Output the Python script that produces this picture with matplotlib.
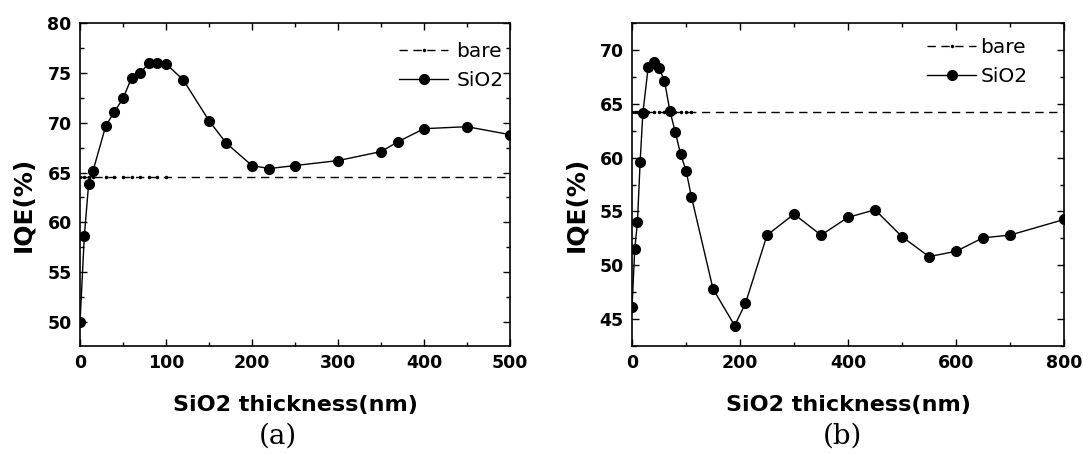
import matplotlib
matplotlib.use("Agg")
import matplotlib.pyplot as plt
from matplotlib.ticker import MultipleLocator

# panel (a): 0-500 nm
xa = [0, 5, 10, 15, 30, 40, 50, 60, 70, 80, 90, 100, 120, 150, 170, 200, 220, 250,
      300, 350, 370, 400, 450, 500]
iqe_a = [50.0, 58.65, 63.85, 65.15, 69.7, 71.1, 72.45, 74.5, 74.95, 76.0, 76.0, 75.9,
         74.3, 70.2, 67.95, 65.7, 65.4, 65.7, 66.2, 67.1, 68.1, 69.4, 69.6, 68.8]
bare_a = 64.6

# panel (b): 0-800 nm
xb = [0, 5, 10, 15, 20, 30, 40, 50, 60, 70, 80, 90, 100, 110, 150, 190, 210, 250,
      300, 350, 400, 450, 500, 550, 600, 650, 700, 800]
iqe_b = [46.1, 51.5, 54.0, 59.6, 64.1, 68.45, 68.85, 68.3, 67.15, 64.35, 62.4, 60.3,
         58.8, 56.35, 47.8, 44.4, 46.45, 52.8, 54.75, 52.8, 54.45, 55.15, 52.65, 50.8,
         51.3, 52.55, 52.8, 54.25]
bare_b = 64.2

fig = plt.figure(figsize=(10.83, 4.54), dpi=100)
axa = fig.add_axes([0.0739, 0.2379, 0.397, 0.7114])
axb = fig.add_axes([0.5836, 0.2379, 0.3989, 0.7114])


def draw(ax, x, y, bare, xlim, ylim, xmaj, xmin, label, lx, legpos, textpad, ylx):
    near = [i for i, v in enumerate(x) if v <= 110]
    ax.plot(x, [bare] * len(x), color='black', lw=1.0, linestyle='--', dashes=(6, 4),
            marker='.', markersize=3, markevery=near, label='bare')
    ax.plot(x, y, color='black', lw=1.0, marker='o', markersize=7, label='SiO2')
    ax.set_xlim(*xlim)
    ax.set_ylim(*ylim)
    ax.xaxis.set_major_locator(MultipleLocator(xmaj))
    ax.xaxis.set_minor_locator(MultipleLocator(xmin))
    ax.yaxis.set_major_locator(MultipleLocator(5))
    ax.yaxis.set_minor_locator(MultipleLocator(2.5))
    ax.tick_params(which='both', direction='in', top=True, right=True, width=1.0)
    ax.tick_params(which='major', length=5, pad=6, labelsize=12.5)
    ax.tick_params(which='minor', length=3)
    for t in ax.get_xticklabels() + ax.get_yticklabels():
        t.set_fontweight('bold')
    for s in ax.spines.values():
        s.set_linewidth(1.2)
    ax.set_xlabel('SiO2 thickness(nm)', fontsize=16, fontweight='bold', labelpad=16)
    ax.set_ylabel('IQE(%)', fontsize=18, fontweight='bold')
    ax.yaxis.set_label_coords(ylx, 0.44)
    ax.legend(loc='upper left', bbox_to_anchor=legpos, frameon=False, fontsize=14.5,
              handlelength=2.45, handletextpad=textpad, labelspacing=0.5,
              borderpad=0, borderaxespad=0)
    fig.text(lx, 0.04, label, ha='center', va='center', fontsize=20,
             family='DejaVu Serif')


draw(axa, xa, iqe_a, bare_a, (0, 500), (47.6, 80), 100, 50, '(a)', 0.257,
     (0.742, 0.94), 0.4, -0.105)
draw(axb, xb, iqe_b, bare_b, (0, 800), (42.5, 72.5), 200, 100, '(b)', 0.778,
     (0.683, 0.955), 0.2, -0.102)

fig.savefig('out.png', dpi=100)
